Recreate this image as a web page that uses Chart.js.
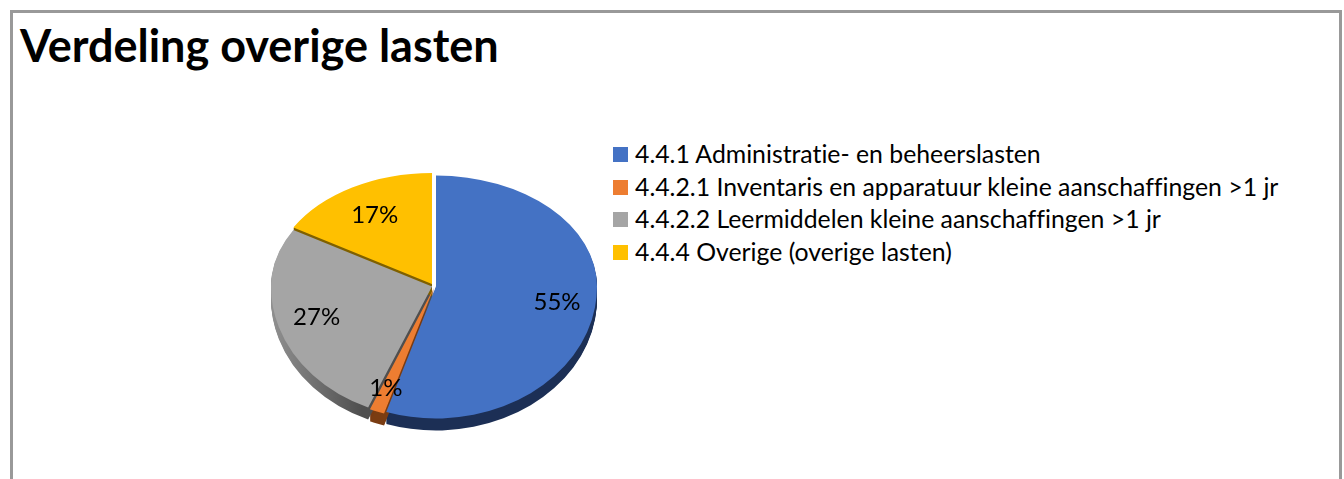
<!DOCTYPE html>
<html>
<head>
<meta charset="utf-8">
<title>Verdeling overige lasten</title>
<script src="https://cdn.jsdelivr.net/npm/chart.js@4"></script>
<style>
  html, body { margin: 0; padding: 0; background: #fff; overflow: hidden; }
  #frame {
    position: absolute; left: 10px; top: 10px; width: 1332px; height: 600px;
    border: 3px solid #999; box-sizing: border-box;
  }
  h1 {
    position: absolute; left: 20px; top: 16px; margin: 0;
    font: bold 45px Lato, sans-serif; line-height: 58px; color: #000; white-space: nowrap;
    font-variant-ligatures: none;
  }
  #legend {
    position: absolute; left: 613px; top: 138px; margin: 0; padding: 0; list-style: none;
    font: 24.8px Lato, sans-serif; color: #000; white-space: nowrap;
    font-variant-ligatures: none;
  }
  #legend li { height: 32.7px; line-height: 32.7px; position: relative; padding-left: 22px; }
  #legend i { position: absolute; left: 0; top: 9px; width: 15px; height: 15px; }
  #pie { position: absolute; left: 253px; top: 116px; }
</style>
</head>
<body>
<div id="frame"></div>
<h1>Verdeling overige lasten</h1>
<ul id="legend"></ul>
<canvas id="pie" width="360" height="340"></canvas>
<script>
const categories = [
  "4.4.1 Administratie- en beheerslasten",
  "4.4.2.1 Inventaris en apparatuur kleine aanschaffingen >1 jr",
  "4.4.2.2 Leermiddelen kleine aanschaffingen >1 jr",
  "4.4.4 Overige (overige lasten)"
];
const shares = [55, 1.49, 27, 16.51];
const colors = ["#4472c4", "#ed7d31", "#a5a5a5", "#ffc000"];
const sideColors = ["#1c2f55", "#7a3c12", "#5f5f5f", "#7f6000"];

// Fake 3D look: squash the pie (more at the back than at the front) and add a side wall
const RADIUS = 161;
const TILT_BACK = 111 / RADIUS;
const TILT_FRONT = 132 / RADIUS;
const DEPTH = 12;
const EXPLODE = [[3, 0.5], [0.8, 2], [-1, 0.4], [-1, -2]];
const LABEL_RADIUS = [0.78, 0.83, 0.76, 0.73];

function drawSquashed(ctx, arc, fill, dx, dy, tilt, clipTop) {
  const drawn = Object.create(arc);
  drawn.options = Object.assign({}, arc.options, { backgroundColor: fill, borderWidth: 0 });
  const w = ctx.canvas.width, h = ctx.canvas.height;
  ctx.save();
  ctx.beginPath();
  if (clipTop) ctx.rect(0, 0, w, arc.y + dy + 0.5);
  else ctx.rect(0, arc.y + dy - 0.5, w, h);
  ctx.clip();
  ctx.translate(arc.x + dx, arc.y + dy);
  ctx.scale(1, tilt);
  ctx.translate(-arc.x, -arc.y);
  drawn.draw(ctx);
  ctx.restore();
}

const pie3d = {
  id: "pie3d",
  beforeDatasetsDraw(chart) {
    const ctx = chart.ctx;
    const arcs = chart.getDatasetMeta(0).data;

    // side wall first, the top surfaces cover most of it
    arcs.forEach((arc, i) => {
      let fill = sideColors[i];
      if (i === 2) {
        const g = ctx.createLinearGradient(arc.x - RADIUS, 0, arc.x - 70, 0);
        g.addColorStop(0, "#909090");
        g.addColorStop(1, "#4f4f4f");
        fill = g;
      }
      for (let d = 1; d <= DEPTH; d++) {
        drawSquashed(ctx, arc, fill, EXPLODE[i][0], EXPLODE[i][1] + d, TILT_BACK, true);
        drawSquashed(ctx, arc, fill, EXPLODE[i][0], EXPLODE[i][1] + d, TILT_FRONT, false);
      }
    });

    arcs.forEach((arc, i) => {
      drawSquashed(ctx, arc, colors[i], EXPLODE[i][0], EXPLODE[i][1], TILT_BACK, true);
      drawSquashed(ctx, arc, colors[i], EXPLODE[i][0], EXPLODE[i][1], TILT_FRONT, false);
    });

    // percentage labels
    ctx.save();
    ctx.font = "24px Lato, sans-serif";
    ctx.fillStyle = "#000";
    ctx.textAlign = "center";
    ctx.textBaseline = "middle";
    arcs.forEach((arc, i) => {
      const mid = (arc.startAngle + arc.endAngle) / 2;
      const tilt = Math.sin(mid) < 0 ? TILT_BACK : TILT_FRONT;
      const x = arc.x + Math.cos(mid) * arc.outerRadius * LABEL_RADIUS[i];
      const y = arc.y + Math.sin(mid) * arc.outerRadius * LABEL_RADIUS[i] * tilt;
      ctx.fillText(Math.round(shares[i]) + "%", x, y);
    });
    ctx.restore();
    return false;
  }
};

new Chart(document.getElementById("pie"), {
  type: "pie",
  data: {
    labels: categories,
    datasets: [{ data: shares, backgroundColor: colors, borderWidth: 0 }]
  },
  options: {
    responsive: false,
    animation: false,
    radius: RADIUS,
    plugins: { legend: { display: false }, tooltip: { enabled: false } }
  },
  plugins: [pie3d]
});

// legend next to the chart
const legend = document.getElementById("legend");
categories.forEach((name, i) => {
  const li = document.createElement("li");
  const box = document.createElement("i");
  box.style.background = colors[i];
  li.appendChild(box);
  li.appendChild(document.createTextNode(name));
  legend.appendChild(li);
});
</script>
</body>
</html>
